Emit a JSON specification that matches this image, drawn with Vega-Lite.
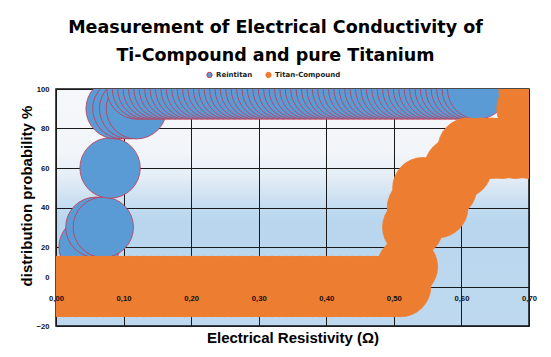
{
  "$schema": "https://vega.github.io/schema/vega-lite/v6.json",
  "autosize": {"type": "none"},
  "padding": {"left": 56, "top": 89, "right": 22, "bottom": 31},
  "width": 473,
  "height": 237,
  "background": "white",
  "title": {
    "text": ["Measurement of Electrical Conductivity of", "Ti-Compound and pure Titanium"],
    "font": "DejaVu Sans",
    "fontSize": 17.5,
    "fontWeight": "bold",
    "color": "#000000",
    "lineHeight": 28,
    "anchor": "middle",
    "dx": -17,
    "offset": 7
  },
  "config": {
    "view": {
      "stroke": "#111111",
      "strokeWidth": 1.5,
      "fill": {
        "gradient": "linear", "x1": 0, "y1": 0, "x2": 0, "y2": 1,
        "stops": [
          {"offset": 0, "color": "#f5f7fa"},
          {"offset": 0.27, "color": "#f2f5f9"},
          {"offset": 0.37, "color": "#e4edf6"},
          {"offset": 0.46, "color": "#cde1f2"},
          {"offset": 0.55, "color": "#b8d6ee"},
          {"offset": 1, "color": "#bed9ef"}
        ]
      }
    }
  },
  "data": {
    "values": [
      {"series": "Reintitan", "resistivity": 0.049, "probability": 20},
      {"series": "Reintitan", "resistivity": 0.059, "probability": 30},
      {"series": "Reintitan", "resistivity": 0.07, "probability": 30},
      {"series": "Reintitan", "resistivity": 0.08, "probability": 60},
      {"series": "Reintitan", "resistivity": 0.089, "probability": 90},
      {"series": "Reintitan", "resistivity": 0.099, "probability": 90},
      {"series": "Reintitan", "resistivity": 0.109, "probability": 90},
      {"series": "Reintitan", "resistivity": 0.119, "probability": 90},
      {"series": "Reintitan", "resistivity": 0.12, "probability": 100},
      {"series": "Reintitan", "resistivity": 0.128, "probability": 100},
      {"series": "Reintitan", "resistivity": 0.136, "probability": 100},
      {"series": "Reintitan", "resistivity": 0.144, "probability": 100},
      {"series": "Reintitan", "resistivity": 0.152, "probability": 100},
      {"series": "Reintitan", "resistivity": 0.16, "probability": 100},
      {"series": "Reintitan", "resistivity": 0.168, "probability": 100},
      {"series": "Reintitan", "resistivity": 0.176, "probability": 100},
      {"series": "Reintitan", "resistivity": 0.184, "probability": 100},
      {"series": "Reintitan", "resistivity": 0.192, "probability": 100},
      {"series": "Reintitan", "resistivity": 0.2, "probability": 100},
      {"series": "Reintitan", "resistivity": 0.208, "probability": 100},
      {"series": "Reintitan", "resistivity": 0.216, "probability": 100},
      {"series": "Reintitan", "resistivity": 0.224, "probability": 100},
      {"series": "Reintitan", "resistivity": 0.232, "probability": 100},
      {"series": "Reintitan", "resistivity": 0.24, "probability": 100},
      {"series": "Reintitan", "resistivity": 0.248, "probability": 100},
      {"series": "Reintitan", "resistivity": 0.256, "probability": 100},
      {"series": "Reintitan", "resistivity": 0.264, "probability": 100},
      {"series": "Reintitan", "resistivity": 0.272, "probability": 100},
      {"series": "Reintitan", "resistivity": 0.28, "probability": 100},
      {"series": "Reintitan", "resistivity": 0.288, "probability": 100},
      {"series": "Reintitan", "resistivity": 0.296, "probability": 100},
      {"series": "Reintitan", "resistivity": 0.304, "probability": 100},
      {"series": "Reintitan", "resistivity": 0.312, "probability": 100},
      {"series": "Reintitan", "resistivity": 0.32, "probability": 100},
      {"series": "Reintitan", "resistivity": 0.328, "probability": 100},
      {"series": "Reintitan", "resistivity": 0.336, "probability": 100},
      {"series": "Reintitan", "resistivity": 0.344, "probability": 100},
      {"series": "Reintitan", "resistivity": 0.352, "probability": 100},
      {"series": "Reintitan", "resistivity": 0.36, "probability": 100},
      {"series": "Reintitan", "resistivity": 0.368, "probability": 100},
      {"series": "Reintitan", "resistivity": 0.376, "probability": 100},
      {"series": "Reintitan", "resistivity": 0.384, "probability": 100},
      {"series": "Reintitan", "resistivity": 0.392, "probability": 100},
      {"series": "Reintitan", "resistivity": 0.4, "probability": 100},
      {"series": "Reintitan", "resistivity": 0.408, "probability": 100},
      {"series": "Reintitan", "resistivity": 0.416, "probability": 100},
      {"series": "Reintitan", "resistivity": 0.424, "probability": 100},
      {"series": "Reintitan", "resistivity": 0.432, "probability": 100},
      {"series": "Reintitan", "resistivity": 0.44, "probability": 100},
      {"series": "Reintitan", "resistivity": 0.448, "probability": 100},
      {"series": "Reintitan", "resistivity": 0.456, "probability": 100},
      {"series": "Reintitan", "resistivity": 0.464, "probability": 100},
      {"series": "Reintitan", "resistivity": 0.472, "probability": 100},
      {"series": "Reintitan", "resistivity": 0.48, "probability": 100},
      {"series": "Reintitan", "resistivity": 0.488, "probability": 100},
      {"series": "Reintitan", "resistivity": 0.496, "probability": 100},
      {"series": "Reintitan", "resistivity": 0.504, "probability": 100},
      {"series": "Reintitan", "resistivity": 0.512, "probability": 100},
      {"series": "Reintitan", "resistivity": 0.52, "probability": 100},
      {"series": "Reintitan", "resistivity": 0.528, "probability": 100},
      {"series": "Reintitan", "resistivity": 0.536, "probability": 100},
      {"series": "Reintitan", "resistivity": 0.544, "probability": 100},
      {"series": "Reintitan", "resistivity": 0.552, "probability": 100},
      {"series": "Reintitan", "resistivity": 0.56, "probability": 100},
      {"series": "Reintitan", "resistivity": 0.568, "probability": 100},
      {"series": "Reintitan", "resistivity": 0.576, "probability": 100},
      {"series": "Reintitan", "resistivity": 0.584, "probability": 100},
      {"series": "Reintitan", "resistivity": 0.592, "probability": 100},
      {"series": "Reintitan", "resistivity": 0.6, "probability": 100},
      {"series": "Reintitan", "resistivity": 0.608, "probability": 100},
      {"series": "Reintitan", "resistivity": 0.616, "probability": 100},
      {"series": "Reintitan", "resistivity": 0.624, "probability": 100},
      {"series": "Titan-Compound", "resistivity": 0.0, "probability": 0},
      {"series": "Titan-Compound", "resistivity": 0.01, "probability": 0},
      {"series": "Titan-Compound", "resistivity": 0.02, "probability": 0},
      {"series": "Titan-Compound", "resistivity": 0.03, "probability": 0},
      {"series": "Titan-Compound", "resistivity": 0.04, "probability": 0},
      {"series": "Titan-Compound", "resistivity": 0.05, "probability": 0},
      {"series": "Titan-Compound", "resistivity": 0.06, "probability": 0},
      {"series": "Titan-Compound", "resistivity": 0.07, "probability": 0},
      {"series": "Titan-Compound", "resistivity": 0.08, "probability": 0},
      {"series": "Titan-Compound", "resistivity": 0.09, "probability": 0},
      {"series": "Titan-Compound", "resistivity": 0.1, "probability": 0},
      {"series": "Titan-Compound", "resistivity": 0.11, "probability": 0},
      {"series": "Titan-Compound", "resistivity": 0.12, "probability": 0},
      {"series": "Titan-Compound", "resistivity": 0.13, "probability": 0},
      {"series": "Titan-Compound", "resistivity": 0.14, "probability": 0},
      {"series": "Titan-Compound", "resistivity": 0.15, "probability": 0},
      {"series": "Titan-Compound", "resistivity": 0.16, "probability": 0},
      {"series": "Titan-Compound", "resistivity": 0.17, "probability": 0},
      {"series": "Titan-Compound", "resistivity": 0.18, "probability": 0},
      {"series": "Titan-Compound", "resistivity": 0.19, "probability": 0},
      {"series": "Titan-Compound", "resistivity": 0.2, "probability": 0},
      {"series": "Titan-Compound", "resistivity": 0.21, "probability": 0},
      {"series": "Titan-Compound", "resistivity": 0.22, "probability": 0},
      {"series": "Titan-Compound", "resistivity": 0.23, "probability": 0},
      {"series": "Titan-Compound", "resistivity": 0.24, "probability": 0},
      {"series": "Titan-Compound", "resistivity": 0.25, "probability": 0},
      {"series": "Titan-Compound", "resistivity": 0.26, "probability": 0},
      {"series": "Titan-Compound", "resistivity": 0.27, "probability": 0},
      {"series": "Titan-Compound", "resistivity": 0.28, "probability": 0},
      {"series": "Titan-Compound", "resistivity": 0.29, "probability": 0},
      {"series": "Titan-Compound", "resistivity": 0.3, "probability": 0},
      {"series": "Titan-Compound", "resistivity": 0.31, "probability": 0},
      {"series": "Titan-Compound", "resistivity": 0.32, "probability": 0},
      {"series": "Titan-Compound", "resistivity": 0.33, "probability": 0},
      {"series": "Titan-Compound", "resistivity": 0.34, "probability": 0},
      {"series": "Titan-Compound", "resistivity": 0.35, "probability": 0},
      {"series": "Titan-Compound", "resistivity": 0.36, "probability": 0},
      {"series": "Titan-Compound", "resistivity": 0.37, "probability": 0},
      {"series": "Titan-Compound", "resistivity": 0.38, "probability": 0},
      {"series": "Titan-Compound", "resistivity": 0.39, "probability": 0},
      {"series": "Titan-Compound", "resistivity": 0.4, "probability": 0},
      {"series": "Titan-Compound", "resistivity": 0.41, "probability": 0},
      {"series": "Titan-Compound", "resistivity": 0.42, "probability": 0},
      {"series": "Titan-Compound", "resistivity": 0.43, "probability": 0},
      {"series": "Titan-Compound", "resistivity": 0.44, "probability": 0},
      {"series": "Titan-Compound", "resistivity": 0.45, "probability": 0},
      {"series": "Titan-Compound", "resistivity": 0.46, "probability": 0},
      {"series": "Titan-Compound", "resistivity": 0.47, "probability": 0},
      {"series": "Titan-Compound", "resistivity": 0.48, "probability": 0},
      {"series": "Titan-Compound", "resistivity": 0.49, "probability": 0},
      {"series": "Titan-Compound", "resistivity": 0.5, "probability": 0},
      {"series": "Titan-Compound", "resistivity": 0.51, "probability": 0},
      {"series": "Titan-Compound", "resistivity": 0.52, "probability": 10},
      {"series": "Titan-Compound", "resistivity": 0.528, "probability": 30},
      {"series": "Titan-Compound", "resistivity": 0.535, "probability": 40},
      {"series": "Titan-Compound", "resistivity": 0.543, "probability": 50},
      {"series": "Titan-Compound", "resistivity": 0.565, "probability": 40},
      {"series": "Titan-Compound", "resistivity": 0.578, "probability": 50},
      {"series": "Titan-Compound", "resistivity": 0.59, "probability": 60},
      {"series": "Titan-Compound", "resistivity": 0.6, "probability": 60},
      {"series": "Titan-Compound", "resistivity": 0.61, "probability": 70},
      {"series": "Titan-Compound", "resistivity": 0.63, "probability": 70},
      {"series": "Titan-Compound", "resistivity": 0.645, "probability": 70},
      {"series": "Titan-Compound", "resistivity": 0.66, "probability": 70},
      {"series": "Titan-Compound", "resistivity": 0.68, "probability": 70},
      {"series": "Titan-Compound", "resistivity": 0.7, "probability": 70},
      {"series": "Titan-Compound", "resistivity": 0.7, "probability": 80},
      {"series": "Titan-Compound", "resistivity": 0.697, "probability": 90},
      {"series": "Titan-Compound", "resistivity": 0.7, "probability": 100}
    ]
  },
  "resolve": {"axis": {"x": "independent"}},
  "layer": [
    {
      "mark": {"type": "point", "filled": true, "shape": "circle", "size": 3650, "opacity": 1, "strokeWidth": 0.8, "clip": true},
      "encoding": {
        "x": {
          "field": "resistivity", "type": "quantitative",
          "scale": {"domain": [0, 0.7], "nice": false, "zero": false},
          "axis": {
            "orient": "top",
            "values": [0, 0.1, 0.2, 0.3, 0.4, 0.5, 0.6, 0.7],
            "domain": false, "ticks": false, "labels": false, "title": null,
            "grid": true, "gridColor": "#1a1a1a", "gridWidth": 1, "gridOpacity": 1,
            "zindex": 0
          }
        },
        "y": {
          "field": "probability", "type": "quantitative",
          "scale": {"domain": [-20, 100], "nice": false, "zero": false},
          "axis": {
            "values": [-20, 0, 20, 40, 60, 80, 100],
            "domain": false, "ticks": false,
            "grid": true, "gridColor": "#1a1a1a", "gridWidth": 1, "gridOpacity": 1,
            "labelFont": "Liberation Sans", "labelFontSize": 7.6, "labelFontWeight": "bold", "labelColor": "#111111",
            "labelPadding": 7, "labelOverlap": false, "labelFlush": false,
            "labelLineHeight": 18,
            "labelBaseline": {"condition": {"test": "datum.value === 0", "value": "line-bottom"}, "value": "middle"},
            "zindex": 0,
            "title": "distribution probability %",
            "titleFont": "Liberation Sans", "titleFontSize": 15, "titleFontWeight": "bold", "titleColor": "#000000",
            "titleX": -30, "titleY": 106.5, "titleAngle": -90, "titleAlign": "center", "titleBaseline": "middle"
          }
        },
        "color": {
          "field": "series", "type": "nominal",
          "scale": {"domain": ["Reintitan", "Titan-Compound"], "range": ["#5b9bd5", "#ed7d31"]},
          "legend": {
            "title": null, "orient": "none", "direction": "horizontal",
            "legendX": 150, "legendY": -18,
            "padding": 0,
            "symbolSize": 28, "symbolStrokeWidth": 1,
            "labelFont": "DejaVu Sans", "labelFontSize": 7, "labelFontWeight": "bold", "labelColor": "#222222",
            "labelOffset": 3, "columnPadding": 10
          }
        },
        "stroke": {
          "field": "series", "type": "nominal",
          "scale": {"domain": ["Reintitan", "Titan-Compound"], "range": ["#c8364e", "#ed7d31"]},
          "legend": {
            "title": null, "orient": "none", "direction": "horizontal",
            "legendX": 150, "legendY": -18,
            "padding": 0,
            "symbolSize": 28, "symbolStrokeWidth": 1,
            "labelFont": "DejaVu Sans", "labelFontSize": 7, "labelFontWeight": "bold", "labelColor": "#222222",
            "labelOffset": 3, "columnPadding": 10
          }
        }
      }
    },
    {
      "mark": {"type": "point", "opacity": 0, "size": 1, "clip": true},
      "encoding": {
        "x": {
          "field": "resistivity", "type": "quantitative",
          "scale": {"domain": [0, 0.7], "nice": false, "zero": false},
          "axis": {
            "orient": "bottom",
            "values": [0, 0.1, 0.2, 0.3, 0.4, 0.5, 0.6, 0.7],
            "labelExpr": "replace(format(datum.value, '.2f'), '.', ',')",
            "offset": -39.5,
            "domain": false, "ticks": false, "grid": false,
            "labelFont": "Liberation Sans", "labelFontSize": 7.7, "labelFontWeight": "bold", "labelColor": "#111111",
            "labelPadding": 8, "labelFlush": false, "labelOverlap": false,
            "zindex": 1,
            "title": "Electrical Resistivity (Ω)",
            "titleFont": "Liberation Sans", "titleFontSize": 15, "titleFontWeight": "bold", "titleColor": "#000000",
            "titleX": 236.5, "titleY": 55.5, "titleAlign": "center", "titleBaseline": "alphabetic"
          }
        },
        "y": {"field": "probability", "type": "quantitative", "axis": {"labelOverlap": false, "values": [-20, 0, 20, 40, 60, 80, 100]}}
      }
    }
  ]
}
